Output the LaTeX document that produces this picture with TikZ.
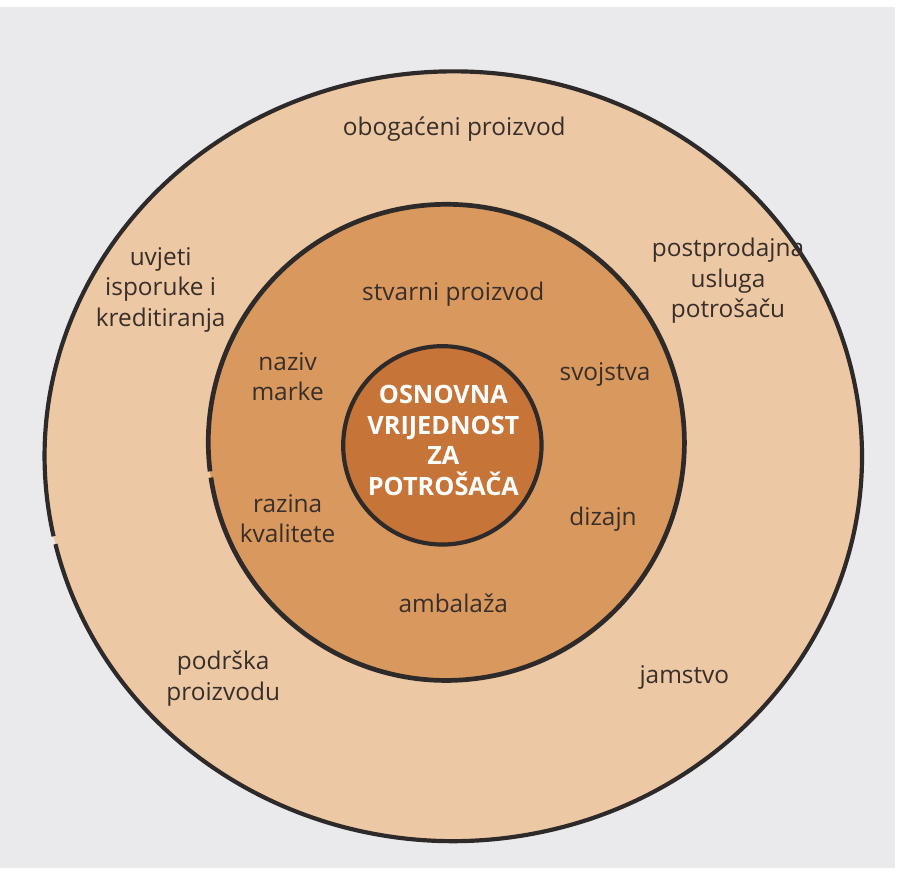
\documentclass[tikz,border=0pt]{standalone}
\usepackage{fontspec}
\setmainfont{Open Sans}
\usepackage{tikz}
\usetikzlibrary{positioning}

\definecolor{paper}{RGB}{234,234,237}
\definecolor{ringouter}{RGB}{237,200,164}
\definecolor{ringmid}{RGB}{216,152,94}
\definecolor{core}{RGB}{198,116,56}
\definecolor{rim}{RGB}{46,42,42}
\definecolor{ink}{RGB}{56,46,42}

\tikzset{
  lbl/.style={text=ink, align=center, font=\fontsize{14}{17.5}\selectfont, inner sep=0pt},
  corelbl/.style={text=white, align=center, font=\bfseries\fontsize{14.5}{17.5}\selectfont, inner sep=0pt},
  rimline/.style={draw=rim, line width=2.4pt}
}

\begin{document}
\begin{tikzpicture}[x=0.02cm,y=-0.02cm]
    \fill[paper] (0,0) rectangle (902,875);
    \fill[white] (0,0) rectangle (902,7);
    % rings
    \fill[ringouter] (457,460) ellipse [x radius=412, y radius=388];
    \draw[rimline] (457,460) ++(168:412 and 388) arc [start angle=168, end angle=526.8, x radius=412, y radius=388];
    \fill[ringmid] (450,446) circle [radius=240];
    \draw[rimline, line width=2.7pt] (450,446) ++(173:240) arc [start angle=173, end angle=531.5, radius=240];
    \fill[core] (446,449) circle [radius=100];
    \draw[rimline] (446,449) ++(100:100) arc [start angle=100, end angle=465, radius=100];
    % outer ring
    \node[lbl] (obogaceni) at (458,130) {obogaćeni proizvod};
    \node[lbl] (uvjeti) at (162,292) {uvjeti\\isporuke i\\kreditiranja};
    \node[lbl] (postprodajna) at (734,283) {postprodajna\\usluga\\potrošaču};
    \node[lbl] (podrska) at (225,684) {podrška\\proizvodu};
    \node[lbl] (jamstvo) at (690,683) {jamstvo};
    % middle ring
    \node[lbl] (stvarni) at (457,297) {stvarni proizvod};
    \node[lbl] (naziv) at (290,380) {naziv\\marke};
    \node[lbl] (svojstva) at (610,378) {svojstva};
    \node[lbl] (razina) at (290,523) {razina\\kvalitete};
    \node[lbl] (dizajn) at (608,523) {dizajn};
    \node[lbl] (ambalaza) at (457,608) {ambalaža};
    % core
    \node[corelbl] (osnovna) at (447,444) {OSNOVNA\\VRIJEDNOST\\ZA\\POTROŠAČA};
\end{tikzpicture}
\end{document}
